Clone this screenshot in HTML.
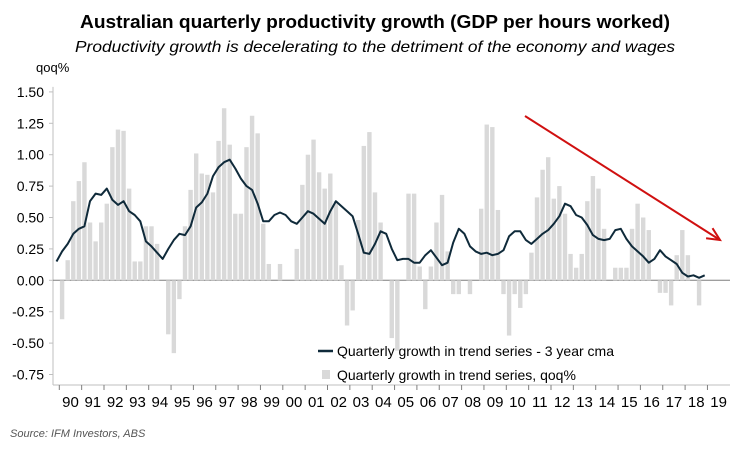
<!DOCTYPE html>
<html><head><meta charset="utf-8"><style>
html,body{margin:0;padding:0;background:#fff;}
svg{display:block;font-family:"Liberation Sans",sans-serif;}
</style></head><body>
<svg id="chart" width="750" height="450" viewBox="0 0 750 450">
<text x="375" y="28" text-anchor="middle" font-size="18" font-weight="bold" textLength="590" lengthAdjust="spacingAndGlyphs">Australian quarterly productivity growth (GDP per hours worked)</text>
<text x="375" y="52" text-anchor="middle" font-size="16" font-style="italic" textLength="600" lengthAdjust="spacingAndGlyphs">Productivity growth is decelerating to the detriment of the economy and wages</text>
<text x="36" y="72" font-size="13">qoq%</text>
<g id="yaxis"></g>
<g id="xaxis"></g>
<g id="bars"></g>
<g id="line"></g>
<g>
<line x1="525" y1="116" x2="720" y2="240" stroke="#d01010" stroke-width="2"/>
<polyline points="712.5,228.2 720,240 706.1,238.2" fill="none" stroke="#d01010" stroke-width="2"/>
</g>
<g>
<line x1="318" y1="351" x2="333" y2="351" stroke="#0f2a3a" stroke-width="2.5"/>
<text x="337" y="356" font-size="14">Quarterly growth in trend series - 3 year cma</text>
<rect x="322" y="370" width="8" height="9" fill="#d9d9d9"/>
<text x="337" y="380" font-size="14">Quarterly growth in trend series, qoq%</text>
</g>
<text x="10" y="437" font-size="11" font-style="italic" fill="#555">Source: IFM Investors, ABS</text>
</svg>
<script>
const yTicks=[1.5,1.25,1,0.75,0.5,0.25,0,-0.25,-0.5,-0.75];
const yearLabels=["90","91","92","93","94","95","96","97","98","99","00","01","02","03","04","05","06","07","08","09","10","11","12","13","14","15","16","17","18","19"];
const barValues=[-0.31,0.16,0.63,0.79,0.94,0.46,0.31,0.46,0.61,1.06,1.20,1.19,0.73,0.15,0.15,0.43,0.43,0.29,0,-0.43,-0.58,-0.15,0.43,0.72,1.01,0.85,0.84,0.70,1.11,1.37,1.08,0.53,0.53,1.06,1.31,1.17,0.45,0.13,0,0.13,
0,0,0.25,0.76,1.00,1.12,0.86,0.73,0.85,0.63,0.12,-0.36,-0.24,0.48,1.07,1.18,0.70,0.46,0,-0.46,-0.56,0,0.69,0.69,0.11,-0.23,0.11,0.46,0.68,0.23,-0.11,-0.11,0,-0.11,0,0.57,1.24,1.22,0.56,
-0.11,-0.44,-0.11,-0.22,-0.11,0.22,0.66,0.88,0.98,0.65,0.75,0.53,0.21,0.10,0.21,0.63,0.83,0.73,0.41,0,0.10,0.10,0.10,0.41,0.61,0.50,0.40,0,-0.10,-0.10,-0.20,0.20,0.40,0.20,0,-0.20];
const lineValues=[0.15,0.23,0.29,0.37,0.41,0.43,0.63,0.69,0.68,0.73,0.64,0.60,0.63,0.55,0.52,0.47,0.31,0.27,0.22,0.17,0.25,0.32,0.37,0.36,0.43,0.58,0.62,0.69,0.83,0.90,0.94,0.96,0.89,0.81,0.75,0.72,0.61,0.47,0.47,0.52,0.54,
0.52,0.47,0.45,0.50,0.55,0.53,0.49,0.45,0.55,0.63,0.59,0.55,0.51,0.37,0.22,0.21,0.29,0.39,0.37,0.25,0.16,0.17,0.17,0.14,0.14,0.20,0.24,0.18,0.12,0.14,0.30,0.41,0.37,0.27,0.23,0.21,0.22,0.20,0.21,
0.24,0.35,0.39,0.39,0.32,0.29,0.33,0.37,0.40,0.45,0.51,0.61,0.59,0.52,0.50,0.44,0.36,0.33,0.32,0.33,0.40,0.41,0.33,0.27,0.23,0.19,0.14,0.17,0.24,0.19,0.16,0.13,0.06,0.03,0.04,0.02,0.04];
const NS='http://www.w3.org/2000/svg';
const x0=59.3, yearW=22.35, qW=yearW/4, zeroY=280.3, unit=125.6, axisLeft=53, axisRight=730, axisBottom=385;
const xq=i=>x0+qW*(i+0.5);
const yv=v=>zeroY-v*unit;
function mk(tag,attrs,parent){const e=document.createElementNS(NS,tag);for(const k in attrs)e.setAttribute(k,attrs[k]);parent.appendChild(e);return e;}
const ya=document.getElementById('yaxis');
mk('line',{x1:axisLeft,y1:yv(1.5)-5,x2:axisLeft,y2:axisBottom,stroke:'#bfbfbf'},ya);
yTicks.forEach(t=>{
  mk('line',{x1:axisLeft-4,y1:yv(t),x2:axisLeft,y2:yv(t),stroke:'#bfbfbf'},ya);
  const tx=mk('text',{x:44,y:yv(t)+5,'text-anchor':'end','font-size':14},ya);
  tx.textContent=t.toFixed(2);
  
  
});
const xa=document.getElementById('xaxis');
mk('line',{x1:axisLeft,y1:axisBottom,x2:axisRight,y2:axisBottom,stroke:'#bfbfbf'},xa);
mk('line',{x1:axisLeft,y1:zeroY,x2:axisRight,y2:zeroY,stroke:'#7f7f7f'},xa);
yearLabels.forEach((l,k)=>{
  const xt=x0+k*yearW;
  mk('line',{x1:xt,y1:axisBottom,x2:xt,y2:axisBottom+5,stroke:'#7f7f7f'},xa);
  const tx=mk('text',{x:xt+yearW/2,y:axisBottom+22,'text-anchor':'middle','font-size':15},xa);
  tx.textContent=l;
  
  
});
const bg=document.getElementById('bars');
barValues.forEach((v,i)=>{
  if(v===0)return;
  const r=mk('rect',{x:xq(i)-2.2,y:Math.min(yv(v),zeroY),width:4.4,height:Math.abs(yv(v)-zeroY),fill:'#d9d9d9'},bg);
  
  
});
const lg=document.getElementById('line');
const pts=lineValues.map((v,j)=>xq(j-1).toFixed(1)+','+yv(v).toFixed(1)).join(' ');
const pl=mk('polyline',{points:pts,fill:'none',stroke:'#0f2a3a','stroke-width':2,'stroke-linejoin':'round'},lg);


</script>
</body></html>
